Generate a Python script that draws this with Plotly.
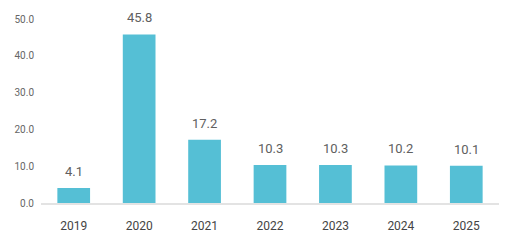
import plotly.graph_objects as go

years = ["2019", "2020", "2021", "2022", "2023", "2024", "2025"]
values = [4.1, 45.8, 17.2, 10.3, 10.3, 10.2, 10.1]
y_ticks = [0, 10, 20, 30, 40, 50]
positions = list(range(len(years)))

fig = go.Figure(go.Bar(
    x=positions, y=values,
    marker=dict(color="#55BFD5", line=dict(width=0)),
    cliponaxis=False,
))
for p, v in zip(positions, values):
    fig.add_annotation(
        x=p, y=v, text=f"{v:.1f}", showarrow=False,
        yanchor="bottom", yshift=7,
        font=dict(family="Roboto", size=13, color="#606060"),
    )
fig.update_layout(
    width=514, height=240,
    margin=dict(l=41, r=15, t=19, b=37),
    paper_bgcolor="white", plot_bgcolor="white",
    bargap=0.5,
    showlegend=False,
    font=dict(family="Roboto"),
)
fig.update_xaxes(
    range=[-0.5, len(years) - 0.5], automargin=False,
    tickvals=positions, ticktext=years,
    showline=True, linecolor="#e3e3e3", linewidth=1.5,
    showgrid=False, zeroline=False, ticks="",
    ticklabelstandoff=11,
    tickfont=dict(family="Roboto", size=12, color="#444444"),
)
fig.update_yaxes(
    range=[0, 50], tickvals=y_ticks, tickformat=".1f", automargin=False,
    showgrid=False, zeroline=False, showline=False, ticks="",
    ticklabelstandoff=6,
    tickfont=dict(family="Roboto", size=10, color="#666666"),
)
fig.write_html("out.html")
